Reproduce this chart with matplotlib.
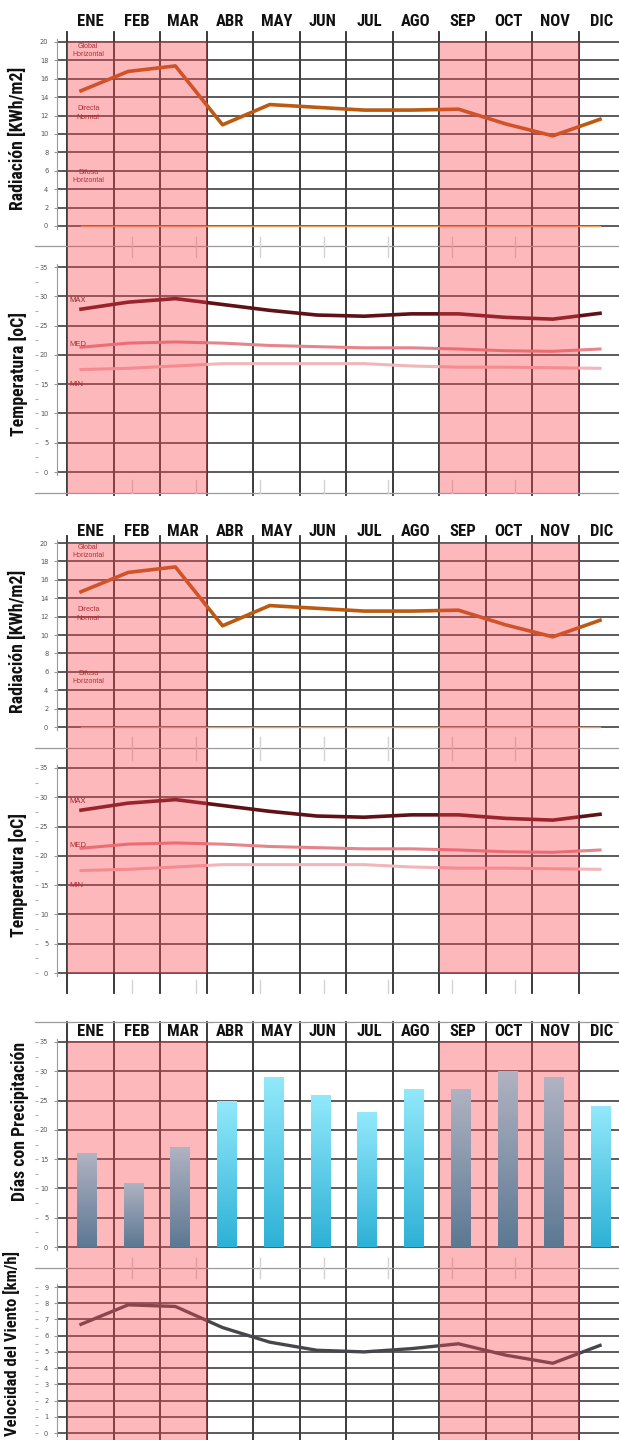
import numpy as np
import matplotlib
matplotlib.use("Agg")
import matplotlib.pyplot as plt
from matplotlib import font_manager
from matplotlib.colors import LinearSegmentedColormap
from matplotlib.patches import Rectangle

W, H = 619, 1440

# --- datos ---
MESES = ['ENE', 'FEB', 'MAR', 'ABR', 'MAY', 'JUN', 'JUL', 'AGO', 'SEP', 'OCT', 'NOV', 'DIC']
TEMPORADA = [True, True, True, False, False, False, False, False, True, True, True, False]

rad_global = [14.7, 16.8, 17.4, 11.0, 13.2, 12.9, 12.6, 12.6, 12.7, 11.1, 9.8, 11.6]
rad_difusa = [0, 0, 0, 0, 0, 0, 0, 0, 0, 0, 0, 0]

t_max = [27.8, 29.0, 29.6, 28.6, 27.6, 26.8, 26.6, 27.0, 27.0, 26.4, 26.1, 27.1]
t_med = [21.3, 22.0, 22.2, 22.0, 21.6, 21.4, 21.2, 21.2, 21.0, 20.7, 20.6, 21.0]
t_min = [17.5, 17.7, 18.1, 18.5, 18.5, 18.5, 18.5, 18.1, 17.9, 17.9, 17.8, 17.7]

dias_lluvia = [16, 11, 17, 25, 29, 26, 23, 27, 27, 30, 29, 24]
viento = [6.7, 7.9, 7.8, 6.5, 5.6, 5.1, 5.0, 5.2, 5.5, 4.8, 4.3, 5.4]

# fuente angosta si existe
instaladas = {f.name for f in font_manager.fontManager.ttflist}
angosta = next((f for f in ['Roboto Condensed', 'Liberation Sans Narrow', 'Roboto', 'Liberation Sans']
                if f in instaladas), 'DejaVu Sans')

# --- layout (pixeles) ---
COL0, COLW = 67, 46.5
ROSA = '#fa4650'
BOLD = dict(family=[angosta, 'DejaVu Sans'], weight='bold')

fig = plt.figure(figsize=(W / 100, H / 100), dpi=100)


def caja(x0, y0, x1, y1):
    return fig.add_axes([x0 / W, 1 - y1 / H, (x1 - x0) / W, (y1 - y0) / H])


# fondo: lineas de columnas, cabeceras, titulos
bg = caja(0, 0, W, H)
bg.set_xlim(0, W)
bg.set_ylim(H, 0)
bg.axis('off')

bloques = [  # (y texto mes, y ini lineas, y fin lineas)
    (21, 32, 495),
    (532, 536, 993),
    (1031, 1022, 1440),
]
for ylab, ya, yb in bloques:
    for i in range(13):
        xc = COL0 + i * COLW
        bg.plot([xc, xc], [ya, yb], color='#2b2b2b', lw=1.3, zorder=2)
    for i, m in enumerate(MESES):
        bg.text(COL0 + (i + 0.5) * COLW, ylab, m, ha='center', va='center',
                fontsize=12, color='#111', zorder=3,
                bbox=dict(facecolor='white', edgecolor='none', pad=0.4), **BOLD)

for y in [246, 493, 748, 1022, 1268]:
    bg.plot([35, W], [y, y], color='#9a9a9a', lw=0.9)

gap_x = 132 + 63.9 * np.arange(7)
for ya, yb in [(237, 257), (480, 493), (737, 760), (980, 993), (1258, 1278)]:
    for xc in gap_x:
        bg.plot([xc, xc], [ya, yb], color='#d2d2d2', lw=1.0)

titulos = [
    ('Radiación [KWh/m2]', 18, 138, 12.8),
    ('Temperatura [oC]', 18, 374, 12.8),
    ('Radiación [KWh/m2]', 18, 641, 12.8),
    ('Temperatura [oC]', 18, 875, 12.8),
    ('Días con Precipitación', 20, 1121, 12.8),
    ('Velocidad del Viento [km/h]', 12, 1343, 12),
]
for txt, xt, yt, fs in titulos:
    bg.text(xt, yt, txt, rotation=90, ha='center', va='center', fontsize=fs,
            color='#111', **BOLD)


def eje_datos(y_top, y_zero, ymax, step, x0=57.4, x1=623.6, guiones=True):
    unit = (y_zero - y_top) / ymax
    pad = 3
    ax = caja(x0, y_top - pad, x1, y_zero + pad)
    ax.set_xlim(-0.5, 11.5)
    ax.set_ylim(-pad / unit, ymax + pad / unit)
    ax.patch.set_alpha(0)
    ax.set_xticks([])
    ax.set_yticks(np.arange(0, ymax + 0.01, step))
    ax.grid(axis='y', color='#404040', lw=1.2)
    for s in ['top', 'right', 'bottom']:
        ax.spines[s].set_visible(False)
    ax.spines['left'].set_color('#9a9a9a')
    ax.spines['left'].set_linewidth(0.8)
    ax.tick_params(axis='y', labelsize=4.8, labelcolor='#555', length=2.5,
                   color='#999', pad=4)
    if guiones:
        sec = ax.secondary_yaxis(-0.035)
        sec.spines['left'].set_visible(False)
        sec.set_yticks(np.arange(0, ymax + 0.01, step / 2))
        sec.tick_params(length=2.5, color='#b0b0b0', labelleft=False)
    return ax


x = np.arange(12)
CHICO = dict(family=['Liberation Sans', 'DejaVu Sans'], fontsize=5)

for dy in [0, 501]:
    ar = eje_datos(42 + dy, 226 + dy, 20, 2, guiones=False)
    ar.plot(x, rad_difusa, color='#e9a062', lw=1.0, zorder=3)
    ar.plot(x, rad_global, color='#bb5a10', lw=2.6, zorder=4)
    ar.text(0.15, 19.1, 'Global\nHorizontal', ha='center', va='center',
            color='#7a2222', linespacing=1.3, **CHICO)
    ar.text(0.15, 12.3, 'Directa\nNormal', ha='center', va='center',
            color='#7a2222', linespacing=1.3, **CHICO)
    ar.text(0.15, 5.4, 'Difusa\nHorizontal', ha='center', va='center',
            color='#7a2222', linespacing=1.3, **CHICO)

    at = eje_datos(267 + dy, 472 + dy, 35, 5)
    at.plot(x, t_min, color='#f2b6ba', lw=2.2, zorder=3)
    at.plot(x, t_med, color='#e5848b', lw=2.2, zorder=3)
    at.plot(x, t_max, color='#5e1116', lw=2.6, zorder=4)
    ETQ = dict(family=['Liberation Sans', 'DejaVu Sans'], fontsize=5.5)
    at.text(-0.25, 29.3, 'MAX', ha='left', va='center', color='#5e1116', **ETQ)
    at.text(-0.25, 21.7, 'MED', ha='left', va='center', color='#7a2222', **ETQ)
    at.text(-0.25, 14.9, 'MIN', ha='left', va='center', color='#7a2222', **ETQ)

ap = eje_datos(1042, 1247, 35, 5)
av = eje_datos(1287, 1433, 9, 1)
av.plot(x, viento, color='#46464b', lw=2.4, zorder=4)

# capa rosada (temporada) por encima de lineas
ov = caja(0, 0, W, H)
ov.set_xlim(0, W)
ov.set_ylim(H, 0)
ov.axis('off')
ov.patch.set_alpha(0)
for ya, yb in [(42, 493), (543, 973), (1042, 1440)]:
    for i, t in enumerate(TEMPORADA):
        if t:
            ov.add_patch(Rectangle((COL0 + i * COLW, ya), COLW, yb - ya,
                                   facecolor=ROSA, alpha=0.38, lw=0))

# barras con degradado
ab = caja(63, 1042 - 3, 624, 1247 + 3)
ab.axis('off')
ab.patch.set_alpha(0)
unit = (1247 - 1042) / 35
cm_azul = LinearSegmentedColormap.from_list('azul', ['#2db1d6', '#93e9fb'])
cm_gris = LinearSegmentedColormap.from_list('gris', ['#5c7893', '#b1b3c2'])
grad = np.linspace(0, 1, 256).reshape(-1, 1)
barras = ab.bar(x, dias_lluvia, width=0.41, color='none', lw=0)
for b, t in zip(barras, TEMPORADA):
    im = ab.imshow(grad, extent=(b.get_x(), b.get_x() + b.get_width(), 0, b.get_height()),
                   origin='lower', aspect='auto', cmap=cm_gris if t else cm_azul,
                   zorder=2)
    im.set_clip_path(b)
ab.set_xlim(-0.5, 11.5)
ab.set_ylim(-3 / unit, 35 + 3 / unit)

fig.savefig('out.png', dpi=100, facecolor='white')
